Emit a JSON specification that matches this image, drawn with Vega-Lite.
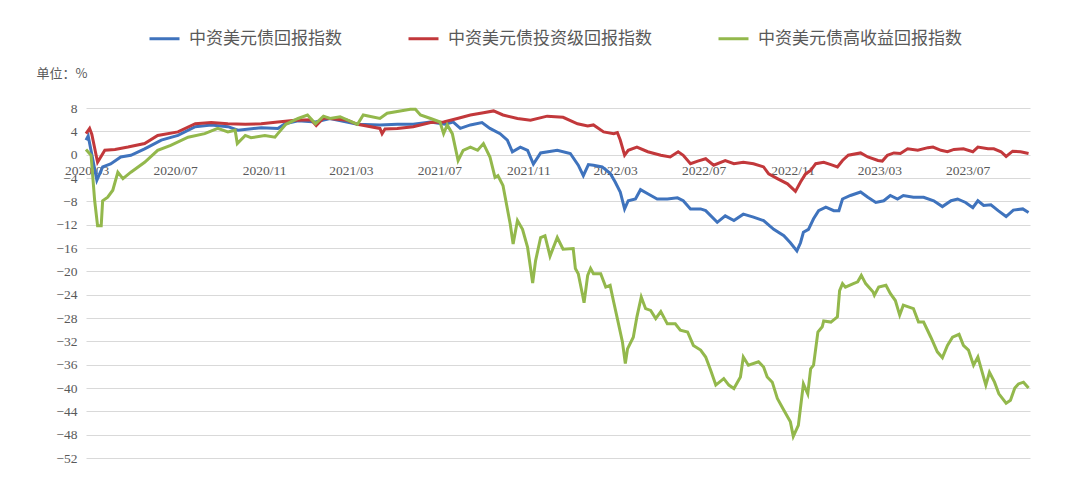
{
  "$schema": "https://vega.github.io/schema/vega-lite/v6.json",
  "width": 944,
  "height": 350,
  "autosize": {"type": "none"},
  "padding": {"left": 86, "top": 108, "right": 50, "bottom": 46},
  "background": "white",
  "config": {"view": {"stroke": null}, "font": "Liberation Serif"},
  "datasets": {
    "b": [
      {"d": "2020-02-29", "v": 2.5}, {"d": "2020-03-03", "v": 3.2}, {"d": "2020-03-15", "v": -4.4}, {"d": "2020-03-23", "v": -2.1},
      {"d": "2020-04-03", "v": -1.6}, {"d": "2020-04-17", "v": -0.4}, {"d": "2020-05-01", "v": -0.1}, {"d": "2020-05-20", "v": 1.0},
      {"d": "2020-06-12", "v": 2.5}, {"d": "2020-07-05", "v": 3.3}, {"d": "2020-07-29", "v": 4.8}, {"d": "2020-08-20", "v": 5.1},
      {"d": "2020-09-12", "v": 4.8}, {"d": "2020-09-26", "v": 4.2}, {"d": "2020-10-28", "v": 4.6}, {"d": "2020-11-20", "v": 4.5},
      {"d": "2020-11-30", "v": 5.3}, {"d": "2020-12-18", "v": 5.8}, {"d": "2021-01-11", "v": 5.6}, {"d": "2021-01-31", "v": 6.2},
      {"d": "2021-03-10", "v": 5.2}, {"d": "2021-04-10", "v": 5.1}, {"d": "2021-05-04", "v": 5.2}, {"d": "2021-05-26", "v": 5.2},
      {"d": "2021-06-19", "v": 5.6}, {"d": "2021-07-09", "v": 5.2}, {"d": "2021-07-20", "v": 5.6}, {"d": "2021-07-30", "v": 4.5},
      {"d": "2021-08-13", "v": 5.1}, {"d": "2021-08-29", "v": 5.5}, {"d": "2021-09-09", "v": 4.5}, {"d": "2021-09-23", "v": 3.6},
      {"d": "2021-10-03", "v": 2.5}, {"d": "2021-10-10", "v": 0.5}, {"d": "2021-10-21", "v": 1.3}, {"d": "2021-10-31", "v": 0.75},
      {"d": "2021-11-08", "v": -1.6}, {"d": "2021-11-18", "v": 0.3}, {"d": "2021-12-11", "v": 0.75}, {"d": "2021-12-29", "v": 0.2},
      {"d": "2022-01-09", "v": -1.8}, {"d": "2022-01-16", "v": -3.6}, {"d": "2022-01-23", "v": -1.7}, {"d": "2022-01-30", "v": -1.8},
      {"d": "2022-02-11", "v": -2.1}, {"d": "2022-02-22", "v": -3.2}, {"d": "2022-03-01", "v": -4.7}, {"d": "2022-03-08", "v": -6.4},
      {"d": "2022-03-14", "v": -9.3}, {"d": "2022-03-19", "v": -7.9}, {"d": "2022-03-29", "v": -7.6}, {"d": "2022-04-05", "v": -6.0},
      {"d": "2022-04-15", "v": -6.7}, {"d": "2022-04-28", "v": -7.6}, {"d": "2022-05-12", "v": -7.6}, {"d": "2022-05-26", "v": -7.4},
      {"d": "2022-06-03", "v": -7.9}, {"d": "2022-06-13", "v": -9.3}, {"d": "2022-06-27", "v": -9.3}, {"d": "2022-07-04", "v": -9.6},
      {"d": "2022-07-20", "v": -11.6}, {"d": "2022-07-31", "v": -10.5}, {"d": "2022-08-12", "v": -11.3}, {"d": "2022-08-25", "v": -10.2},
      {"d": "2022-09-08", "v": -10.7}, {"d": "2022-09-22", "v": -11.3}, {"d": "2022-10-06", "v": -12.8}, {"d": "2022-10-20", "v": -13.9},
      {"d": "2022-10-29", "v": -15.1}, {"d": "2022-11-07", "v": -16.5}, {"d": "2022-11-12", "v": -15.1}, {"d": "2022-11-16", "v": -13.3},
      {"d": "2022-11-23", "v": -12.8}, {"d": "2022-11-30", "v": -11.0}, {"d": "2022-12-07", "v": -9.6}, {"d": "2022-12-17", "v": -9.0},
      {"d": "2022-12-28", "v": -9.6}, {"d": "2023-01-04", "v": -9.6}, {"d": "2023-01-09", "v": -7.6}, {"d": "2023-01-20", "v": -7.0},
      {"d": "2023-02-03", "v": -6.4}, {"d": "2023-02-13", "v": -7.3}, {"d": "2023-02-24", "v": -8.2}, {"d": "2023-03-07", "v": -7.9},
      {"d": "2023-03-16", "v": -7.0}, {"d": "2023-03-26", "v": -7.6}, {"d": "2023-04-03", "v": -7.0}, {"d": "2023-04-17", "v": -7.3},
      {"d": "2023-05-01", "v": -7.3}, {"d": "2023-05-15", "v": -7.9}, {"d": "2023-05-27", "v": -8.9}, {"d": "2023-06-08", "v": -7.9},
      {"d": "2023-06-17", "v": -7.6}, {"d": "2023-06-28", "v": -8.2}, {"d": "2023-07-08", "v": -9.1}, {"d": "2023-07-15", "v": -7.9},
      {"d": "2023-07-23", "v": -8.7}, {"d": "2023-08-02", "v": -8.6}, {"d": "2023-08-12", "v": -9.6}, {"d": "2023-08-23", "v": -10.6},
      {"d": "2023-09-02", "v": -9.5}, {"d": "2023-09-15", "v": -9.3}, {"d": "2023-09-23", "v": -9.9}
    ],
    "r": [
      {"d": "2020-02-29", "v": 3.6}, {"d": "2020-03-05", "v": 4.5}, {"d": "2020-03-08", "v": 3.5}, {"d": "2020-03-16", "v": -1.3},
      {"d": "2020-03-26", "v": 0.75}, {"d": "2020-04-09", "v": 0.9}, {"d": "2020-04-27", "v": 1.3}, {"d": "2020-05-20", "v": 1.9},
      {"d": "2020-06-07", "v": 3.3}, {"d": "2020-07-05", "v": 3.9}, {"d": "2020-07-29", "v": 5.3}, {"d": "2020-08-20", "v": 5.5},
      {"d": "2020-09-12", "v": 5.3}, {"d": "2020-10-06", "v": 5.2}, {"d": "2020-10-28", "v": 5.3}, {"d": "2020-11-20", "v": 5.6},
      {"d": "2020-12-14", "v": 5.9}, {"d": "2021-01-05", "v": 6.0}, {"d": "2021-01-12", "v": 5.0}, {"d": "2021-01-22", "v": 6.3},
      {"d": "2021-01-31", "v": 6.2}, {"d": "2021-02-24", "v": 5.9}, {"d": "2021-03-10", "v": 5.2}, {"d": "2021-04-10", "v": 4.5},
      {"d": "2021-04-13", "v": 3.6}, {"d": "2021-04-17", "v": 4.4}, {"d": "2021-05-04", "v": 4.5}, {"d": "2021-05-26", "v": 4.8},
      {"d": "2021-06-19", "v": 5.5}, {"d": "2021-07-07", "v": 5.6}, {"d": "2021-07-26", "v": 6.2}, {"d": "2021-08-13", "v": 6.8},
      {"d": "2021-08-31", "v": 7.2}, {"d": "2021-09-14", "v": 7.5}, {"d": "2021-09-27", "v": 6.8}, {"d": "2021-10-17", "v": 6.2},
      {"d": "2021-11-04", "v": 5.9}, {"d": "2021-11-27", "v": 6.6}, {"d": "2021-12-19", "v": 6.4}, {"d": "2022-01-08", "v": 5.3},
      {"d": "2022-01-22", "v": 4.9}, {"d": "2022-01-30", "v": 5.1}, {"d": "2022-02-13", "v": 3.9}, {"d": "2022-02-27", "v": 3.6},
      {"d": "2022-03-04", "v": 3.8}, {"d": "2022-03-08", "v": 2.5}, {"d": "2022-03-14", "v": -0.1}, {"d": "2022-03-19", "v": 0.75},
      {"d": "2022-03-31", "v": 1.3}, {"d": "2022-04-15", "v": 0.5}, {"d": "2022-05-03", "v": -0.1}, {"d": "2022-05-16", "v": -0.4},
      {"d": "2022-05-27", "v": 0.5}, {"d": "2022-06-03", "v": -0.1}, {"d": "2022-06-13", "v": -1.55}, {"d": "2022-06-23", "v": -1.1},
      {"d": "2022-07-04", "v": -0.7}, {"d": "2022-07-15", "v": -1.8}, {"d": "2022-07-31", "v": -1.0}, {"d": "2022-08-12", "v": -1.55},
      {"d": "2022-08-25", "v": -1.3}, {"d": "2022-09-08", "v": -1.55}, {"d": "2022-09-22", "v": -2.1}, {"d": "2022-09-29", "v": -3.3},
      {"d": "2022-10-11", "v": -4.1}, {"d": "2022-10-25", "v": -5.0}, {"d": "2022-11-05", "v": -6.3}, {"d": "2022-11-12", "v": -4.7},
      {"d": "2022-11-19", "v": -3.3}, {"d": "2022-11-26", "v": -2.7}, {"d": "2022-12-03", "v": -1.55}, {"d": "2022-12-14", "v": -1.3},
      {"d": "2022-12-24", "v": -1.7}, {"d": "2023-01-02", "v": -2.1}, {"d": "2023-01-09", "v": -1.0}, {"d": "2023-01-17", "v": -0.1},
      {"d": "2023-02-03", "v": 0.3}, {"d": "2023-02-13", "v": -0.4}, {"d": "2023-02-27", "v": -1.0}, {"d": "2023-03-05", "v": -1.1},
      {"d": "2023-03-12", "v": -0.1}, {"d": "2023-03-21", "v": 0.3}, {"d": "2023-03-30", "v": 0.2}, {"d": "2023-04-09", "v": 1.0},
      {"d": "2023-04-23", "v": 0.75}, {"d": "2023-05-07", "v": 1.2}, {"d": "2023-05-14", "v": 1.3}, {"d": "2023-05-25", "v": 0.75},
      {"d": "2023-06-03", "v": 0.5}, {"d": "2023-06-12", "v": 0.9}, {"d": "2023-06-25", "v": 1.0}, {"d": "2023-07-08", "v": 0.5},
      {"d": "2023-07-15", "v": 1.3}, {"d": "2023-07-29", "v": 1.0}, {"d": "2023-08-06", "v": 1.0}, {"d": "2023-08-16", "v": 0.5},
      {"d": "2023-08-23", "v": -0.3}, {"d": "2023-09-01", "v": 0.6}, {"d": "2023-09-12", "v": 0.5}, {"d": "2023-09-23", "v": 0.2}
    ],
    "g": [
      {"d": "2020-02-29", "v": 0.9}, {"d": "2020-03-07", "v": -0.1}, {"d": "2020-03-12", "v": -7.9}, {"d": "2020-03-16", "v": -12.2},
      {"d": "2020-03-21", "v": -12.2}, {"d": "2020-03-23", "v": -7.9}, {"d": "2020-03-30", "v": -7.3}, {"d": "2020-04-06", "v": -6.1},
      {"d": "2020-04-13", "v": -3.0}, {"d": "2020-04-20", "v": -4.1}, {"d": "2020-05-01", "v": -3.0}, {"d": "2020-05-20", "v": -1.3},
      {"d": "2020-06-07", "v": 0.75}, {"d": "2020-06-25", "v": 1.6}, {"d": "2020-07-19", "v": 3.0}, {"d": "2020-08-11", "v": 3.6},
      {"d": "2020-08-29", "v": 4.5}, {"d": "2020-09-12", "v": 3.9}, {"d": "2020-09-22", "v": 4.2}, {"d": "2020-09-25", "v": 1.9},
      {"d": "2020-10-06", "v": 3.3}, {"d": "2020-10-14", "v": 2.9}, {"d": "2020-11-02", "v": 3.3}, {"d": "2020-11-16", "v": 3.0},
      {"d": "2020-11-20", "v": 3.6}, {"d": "2020-12-01", "v": 5.2}, {"d": "2020-12-18", "v": 6.2}, {"d": "2020-12-31", "v": 6.8},
      {"d": "2021-01-11", "v": 5.3}, {"d": "2021-01-22", "v": 6.6}, {"d": "2021-01-31", "v": 6.2}, {"d": "2021-02-14", "v": 6.5},
      {"d": "2021-03-10", "v": 5.2}, {"d": "2021-03-18", "v": 6.8}, {"d": "2021-04-10", "v": 6.2}, {"d": "2021-04-20", "v": 7.1},
      {"d": "2021-05-04", "v": 7.4}, {"d": "2021-05-22", "v": 7.8}, {"d": "2021-05-29", "v": 7.8}, {"d": "2021-06-05", "v": 6.8},
      {"d": "2021-06-19", "v": 6.2}, {"d": "2021-07-02", "v": 5.6}, {"d": "2021-07-07", "v": 3.6}, {"d": "2021-07-12", "v": 5.1},
      {"d": "2021-07-19", "v": 3.6}, {"d": "2021-07-27", "v": -1.0}, {"d": "2021-08-03", "v": 0.75}, {"d": "2021-08-13", "v": 1.3},
      {"d": "2021-08-23", "v": 0.75}, {"d": "2021-08-31", "v": 1.9}, {"d": "2021-09-09", "v": -0.4}, {"d": "2021-09-16", "v": -3.9},
      {"d": "2021-09-20", "v": -3.6}, {"d": "2021-09-27", "v": -5.3}, {"d": "2021-10-07", "v": -11.9}, {"d": "2021-10-11", "v": -15.3},
      {"d": "2021-10-17", "v": -11.3}, {"d": "2021-10-24", "v": -12.8}, {"d": "2021-10-31", "v": -15.9}, {"d": "2021-11-07", "v": -22.0},
      {"d": "2021-11-11", "v": -18.2}, {"d": "2021-11-18", "v": -14.2}, {"d": "2021-11-24", "v": -13.9}, {"d": "2021-12-01", "v": -17.4},
      {"d": "2021-12-11", "v": -14.2}, {"d": "2021-12-19", "v": -16.2}, {"d": "2022-01-02", "v": -16.1}, {"d": "2022-01-05", "v": -19.5},
      {"d": "2022-01-09", "v": -20.4}, {"d": "2022-01-15", "v": -24.1}, {"d": "2022-01-17", "v": -25.4}, {"d": "2022-01-22", "v": -20.7},
      {"d": "2022-01-26", "v": -19.5}, {"d": "2022-01-30", "v": -20.4}, {"d": "2022-02-09", "v": -20.4}, {"d": "2022-02-16", "v": -22.7},
      {"d": "2022-02-22", "v": -22.4}, {"d": "2022-02-27", "v": -25.3}, {"d": "2022-03-04", "v": -28.1}, {"d": "2022-03-11", "v": -32.1},
      {"d": "2022-03-15", "v": -35.8}, {"d": "2022-03-18", "v": -33.3}, {"d": "2022-03-26", "v": -31.3}, {"d": "2022-03-31", "v": -27.8},
      {"d": "2022-04-06", "v": -24.4}, {"d": "2022-04-12", "v": -26.4}, {"d": "2022-04-19", "v": -26.7}, {"d": "2022-04-26", "v": -28.1},
      {"d": "2022-05-03", "v": -26.9}, {"d": "2022-05-12", "v": -29.0}, {"d": "2022-05-23", "v": -29.0}, {"d": "2022-05-30", "v": -30.1},
      {"d": "2022-06-09", "v": -30.4}, {"d": "2022-06-17", "v": -32.7}, {"d": "2022-06-27", "v": -33.5}, {"d": "2022-07-04", "v": -34.7},
      {"d": "2022-07-11", "v": -37.0}, {"d": "2022-07-18", "v": -39.5}, {"d": "2022-07-29", "v": -38.4}, {"d": "2022-08-05", "v": -39.5},
      {"d": "2022-08-12", "v": -40.1}, {"d": "2022-08-21", "v": -38.1}, {"d": "2022-08-25", "v": -34.7}, {"d": "2022-09-01", "v": -36.1},
      {"d": "2022-09-15", "v": -35.5}, {"d": "2022-09-22", "v": -36.4}, {"d": "2022-09-27", "v": -38.1}, {"d": "2022-10-04", "v": -39.0},
      {"d": "2022-10-11", "v": -41.8}, {"d": "2022-10-20", "v": -43.8}, {"d": "2022-10-29", "v": -45.8}, {"d": "2022-11-02", "v": -48.3},
      {"d": "2022-11-09", "v": -46.4}, {"d": "2022-11-16", "v": -39.3}, {"d": "2022-11-22", "v": -41.0}, {"d": "2022-11-26", "v": -36.7},
      {"d": "2022-11-30", "v": -36.1}, {"d": "2022-12-06", "v": -30.4}, {"d": "2022-12-12", "v": -29.5}, {"d": "2022-12-14", "v": -28.5},
      {"d": "2022-12-24", "v": -28.7}, {"d": "2023-01-02", "v": -27.8}, {"d": "2023-01-05", "v": -23.3}, {"d": "2023-01-09", "v": -22.1},
      {"d": "2023-01-13", "v": -22.7}, {"d": "2023-01-24", "v": -22.1}, {"d": "2023-01-30", "v": -21.8}, {"d": "2023-02-04", "v": -20.7},
      {"d": "2023-02-10", "v": -22.1}, {"d": "2023-02-20", "v": -23.5}, {"d": "2023-02-22", "v": -24.1}, {"d": "2023-02-28", "v": -22.7},
      {"d": "2023-03-10", "v": -22.4}, {"d": "2023-03-16", "v": -23.8}, {"d": "2023-03-23", "v": -25.0}, {"d": "2023-03-29", "v": -27.5},
      {"d": "2023-04-03", "v": -25.8}, {"d": "2023-04-17", "v": -26.4}, {"d": "2023-04-24", "v": -28.7}, {"d": "2023-05-01", "v": -28.7},
      {"d": "2023-05-11", "v": -31.3}, {"d": "2023-05-20", "v": -33.8}, {"d": "2023-05-27", "v": -34.8}, {"d": "2023-06-03", "v": -32.7},
      {"d": "2023-06-10", "v": -31.3}, {"d": "2023-06-19", "v": -30.8}, {"d": "2023-06-25", "v": -32.7}, {"d": "2023-07-02", "v": -33.5},
      {"d": "2023-07-09", "v": -36.1}, {"d": "2023-07-15", "v": -34.7}, {"d": "2023-07-26", "v": -39.5}, {"d": "2023-07-31", "v": -37.3},
      {"d": "2023-08-07", "v": -39.0}, {"d": "2023-08-13", "v": -41.0}, {"d": "2023-08-23", "v": -42.6}, {"d": "2023-08-29", "v": -42.1},
      {"d": "2023-09-04", "v": -40.0}, {"d": "2023-09-09", "v": -39.3}, {"d": "2023-09-16", "v": -39.0}, {"d": "2023-09-23", "v": -40.0}
    ]
  },
  "encoding": {
    "x": {
      "field": "d",
      "type": "temporal",
      "scale": {
        "type": "utc",
        "domain": [
          {"year": 2020, "month": 2, "date": 29, "utc": true},
          {"year": 2023, "month": 9, "date": 25, "utc": true}
        ]
      },
      "axis": {
        "values": [
          {"year": 2020, "month": 3, "date": 1, "utc": true},
          {"year": 2020, "month": 7, "date": 1, "utc": true},
          {"year": 2020, "month": 11, "date": 1, "utc": true},
          {"year": 2021, "month": 3, "date": 1, "utc": true},
          {"year": 2021, "month": 7, "date": 1, "utc": true},
          {"year": 2021, "month": 11, "date": 1, "utc": true},
          {"year": 2022, "month": 3, "date": 1, "utc": true},
          {"year": 2022, "month": 7, "date": 1, "utc": true},
          {"year": 2022, "month": 11, "date": 1, "utc": true},
          {"year": 2023, "month": 3, "date": 1, "utc": true},
          {"year": 2023, "month": 7, "date": 1, "utc": true}
        ],
        "labelExpr": "utcFormat(datum.value, '%Y/%m')",
        "title": null,
        "grid": false,
        "domain": false,
        "ticks": false,
        "offset": -303,
        "labelPadding": 8,
        "labelFont": "Liberation Serif",
        "labelFontSize": 13.5,
        "labelColor": "#595959",
        "labelFlush": false,
        "labelOverlap": false
      }
    },
    "y": {
      "field": "v",
      "type": "quantitative",
      "scale": {"domain": [-52, 8], "nice": false, "zero": false},
      "axis": {
        "values": [8, 4, 0, -4, -8, -12, -16, -20, -24, -28, -32, -36, -40, -44, -48, -52],
        "grid": true,
        "gridColor": "#D9D9D9",
        "gridWidth": 1,
        "domain": false,
        "ticks": false,
        "labelFont": "Liberation Serif",
        "labelFontSize": 13.5,
        "labelColor": "#595959",
        "labelPadding": 9,
        "title": "单位：%",
        "titleAngle": 0,
        "titleAlign": "left",
        "titleBaseline": "middle",
        "titleX": -50,
        "titleY": -35,
        "titleFont": "Noto Sans CJK SC",
        "titleFontSize": 13,
        "titleFontWeight": "normal",
        "titleColor": "#595959"
      }
    }
  },
  "layer": [
    {
      "data": {"name": "b", "format": {"parse": {"d": "utc:'%Y-%m-%d'"}}},
      "mark": {"type": "line", "strokeWidth": 3},
      "encoding": {
        "color": {
          "datum": "中资美元债回报指数",
          "type": "nominal",
          "scale": {
            "domain": ["中资美元债回报指数", "中资美元债投资级回报指数", "中资美元债高收益回报指数"],
            "range": ["#3F73BD", "#C2383B", "#93B84C"]
          },
          "legend": {
            "orient": "none",
            "legendX": 62,
            "legendY": -86,
            "direction": "horizontal",
            "title": null,
            "symbolType": "stroke",
            "symbolStrokeWidth": 3,
            "symbolSize": 900,
            "labelFont": "Noto Sans CJK SC",
            "labelFontSize": 17,
            "labelColor": "#595959",
            "labelOffset": 8,
            "labelLimit": 400,
            "columnPadding": 60
          }
        }
      }
    },
    {
      "data": {"name": "r", "format": {"parse": {"d": "utc:'%Y-%m-%d'"}}},
      "mark": {"type": "line", "strokeWidth": 3},
      "encoding": {"color": {"datum": "中资美元债投资级回报指数", "type": "nominal"}}
    },
    {
      "data": {"name": "g", "format": {"parse": {"d": "utc:'%Y-%m-%d'"}}},
      "mark": {"type": "line", "strokeWidth": 3},
      "encoding": {"color": {"datum": "中资美元债高收益回报指数", "type": "nominal"}}
    }
  ]
}
